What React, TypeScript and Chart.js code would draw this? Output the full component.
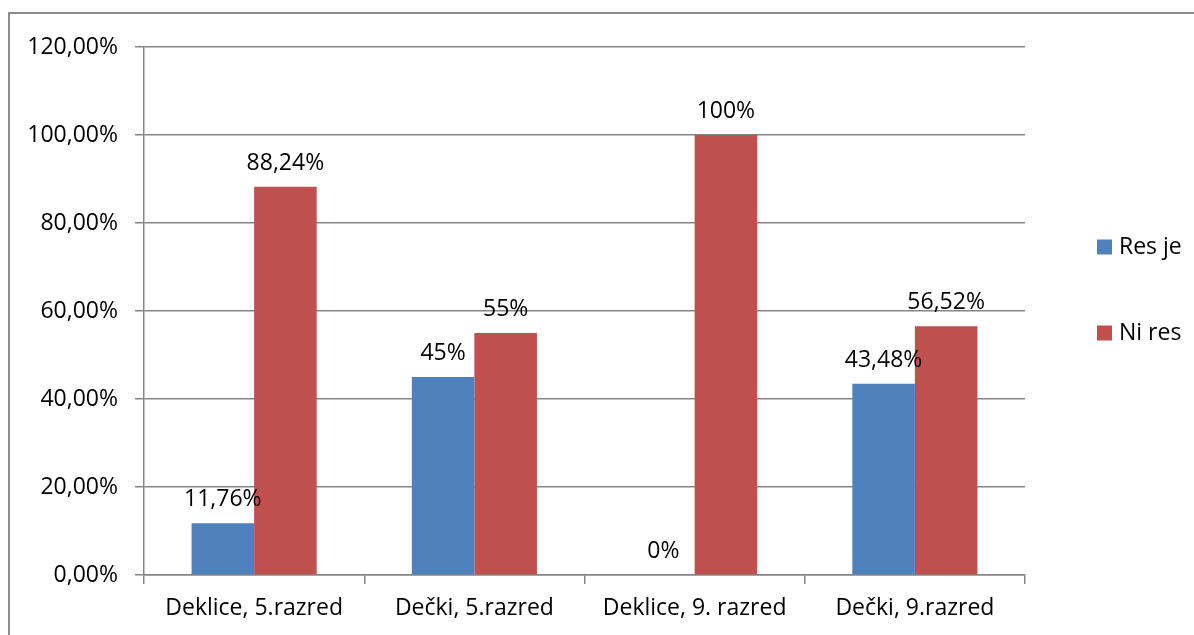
import React, { useEffect, useRef } from "react";
import { Chart, registerables } from "chart.js";

Chart.register(...registerables);

const categories = ["Deklice, 5.razred", "Dečki, 5.razred", "Deklice, 9. razred", "Dečki, 9.razred"];
const seriesNames = ["Res je", "Ni res"];
const resJe = [11.76, 45, 0, 43.48];
const niRes = [88.24, 55, 100, 56.52];
const resJeLabels = ["11,76%", "45%", "0%", "43,48%"];
const niResLabels = ["88,24%", "55%", "100%", "56,52%"];
const yTicks = [0, 20, 40, 60, 80, 100, 120];
const yTickLabels = ["0,00%", "20,00%", "40,00%", "60,00%", "80,00%", "100,00%", "120,00%"];
const colors = ["#4F81BD", "#C0504D"];

const FONT = "'Open Sans', 'Liberation Sans', sans-serif";
const FSIZE = 23;

export default function App() {
  const ref = useRef<HTMLCanvasElement | null>(null);

  useEffect(() => {
    if (!ref.current) return;
    const labelSets = [resJeLabels, niResLabels];

    const dataLabels = {
      id: "dataLabels",
      afterDatasetsDraw(chart: any) {
        const ctx = chart.ctx;
        ctx.save();
        ctx.font = `${FSIZE}px ${FONT}`;
        ctx.fillStyle = "#000";
        ctx.textAlign = "center";
        ctx.textBaseline = "alphabetic";
        chart.data.datasets.forEach((ds: any, di: number) => {
          const meta = chart.getDatasetMeta(di);
          meta.data.forEach((bar: any, i: number) => {
            ctx.fillText(labelSets[di][i], bar.x, bar.y - 17);
          });
        });
        ctx.restore();
      },
    };

    const legendPlugin = {
      id: "customLegend",
      afterDraw(chart: any) {
        const ctx = chart.ctx;
        ctx.save();
        ctx.font = `${FSIZE}px ${FONT}`;
        ctx.textBaseline = "middle";
        ctx.textAlign = "left";
        const ys = [247, 333];
        chart.data.datasets.forEach((ds: any, di: number) => {
          ctx.fillStyle = ds.backgroundColor;
          ctx.fillRect(1097, ys[di] - 7.5, 15, 15);
          ctx.fillStyle = "#000";
          ctx.fillText(ds.label, 1119, ys[di]);
        });
        ctx.restore();
      },
    };

    const chart = new Chart(ref.current, {
      type: "bar",
      data: {
        labels: categories,
        datasets: [
          { label: seriesNames[0], data: resJe, backgroundColor: colors[0], categoryPercentage: 0.568, barPercentage: 1 },
          { label: seriesNames[1], data: niRes, backgroundColor: colors[1], categoryPercentage: 0.568, barPercentage: 1 },
        ],
      },
      options: {
        animation: false,
        responsive: false,
        maintainAspectRatio: false,
        layout: { padding: { left: 0, top: 47, right: 169, bottom: 0 } },
        plugins: { legend: { display: false }, tooltip: { enabled: false } },
        scales: {
          x: {
            grid: { offset: true, drawOnChartArea: false, drawTicks: true, tickLength: 9, color: "#868686", lineWidth: 1.5 },
            border: { color: "#868686", width: 1.5 },
            ticks: { color: "#000", font: { family: FONT, size: FSIZE }, padding: 11, maxRotation: 0 },
            afterFit(scale: any) { scale.height = 60; },
          },
          y: {
            min: 0,
            max: 120,
            afterBuildTicks(scale: any) { scale.ticks = yTicks.map((v) => ({ value: v })); },
            grid: { color: "#868686", lineWidth: 1.5, tickLength: 9, drawTicks: true },
            border: { color: "#868686", width: 1.5 },
            ticks: {
              color: "#000",
              font: { family: FONT, size: FSIZE },
              padding: 17,
              callback: (v: any) => yTickLabels[yTicks.indexOf(Number(v))] ?? "",
            },
            afterFit(scale: any) { scale.width = 144; },
          },
        },
      },
      plugins: [dataLabels, legendPlugin],
    });
    return () => chart.destroy();
  }, []);

  return (
    <div>
      <canvas
        ref={ref}
        width={1194}
        height={635}
        style={{ position: "fixed", left: 0, top: 0, width: 1194, height: 635, background: "#fff" }}
      />
      <div
        style={{
          position: "fixed",
          left: 8,
          top: 12,
          width: 1300,
          height: 800,
          borderTop: "2px solid #8c8c8c",
          borderLeft: "2px solid #8c8c8c",
          pointerEvents: "none",
        }}
      />
    </div>
  );
}
